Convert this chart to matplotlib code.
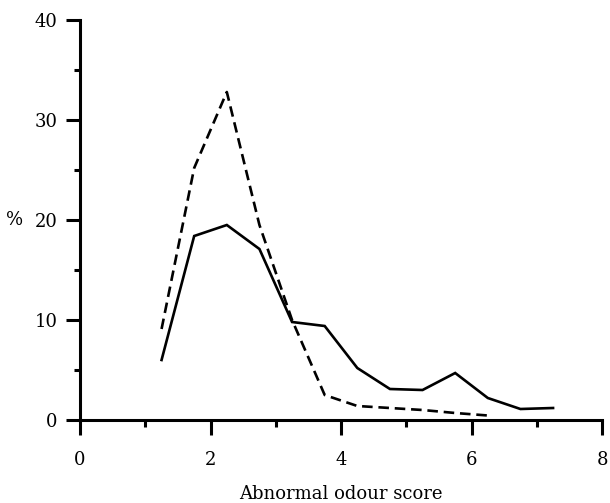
import matplotlib
matplotlib.use("Agg")
import matplotlib.pyplot as plt
from matplotlib.ticker import MultipleLocator

# score classes (mid points) and percentages
score_solid = [1.25, 1.75, 2.25, 2.75, 3.25, 3.75, 4.25, 4.75, 5.25, 5.75, 6.25, 6.75, 7.25]
pct_solid = [6.0, 18.4, 19.5, 17.1, 9.8, 9.4, 5.2, 3.1, 3.0, 4.7, 2.2, 1.1, 1.2]

score_dashed = [1.25, 1.75, 2.25, 2.75, 3.25, 3.75, 4.25, 4.75, 5.25, 5.75, 6.25]
pct_dashed = [9.1, 25.2, 32.8, 19.5, 10.0, 2.5, 1.4, 1.2, 1.0, 0.7, 0.45]

plt.rcParams['font.family'] = ['DejaVu Serif']

fig = plt.figure(figsize=(6.1, 5.03), dpi=100)
ax = fig.add_axes([80 / 610, 83 / 503, 522 / 610, 400 / 503])

ax.plot(score_solid, pct_solid, color='black', lw=1.9, solid_joinstyle='miter')
ax.plot(score_dashed, pct_dashed, color='black', lw=1.9, linestyle=(0, (4, 2.2)))

ax.set_xlim(0, 8)
ax.set_ylim(0, 40)

for side in ['top', 'right']:
    ax.spines[side].set_visible(False)
for side in ['left', 'bottom']:
    ax.spines[side].set_linewidth(2.2)

ax.xaxis.set_major_locator(MultipleLocator(2))
ax.xaxis.set_minor_locator(MultipleLocator(1))
ax.yaxis.set_major_locator(MultipleLocator(10))
ax.yaxis.set_minor_locator(MultipleLocator(5))

ax.tick_params(axis='x', which='major', length=11, width=2.2, pad=11, labelsize=13)
ax.tick_params(axis='x', which='minor', length=5, width=2.2)
ax.tick_params(axis='y', which='major', length=10, width=2.2, pad=6, labelsize=13)
ax.tick_params(axis='y', which='minor', length=4.5, width=2.2)

ax.set_xlabel('Abnormal odour score', fontsize=13, labelpad=12)
ax.set_ylabel('%', fontsize=13, rotation=0, va='center', ha='center')
ax.yaxis.set_label_coords(-0.126, 0.5)

fig.savefig('out.png', dpi=100)
